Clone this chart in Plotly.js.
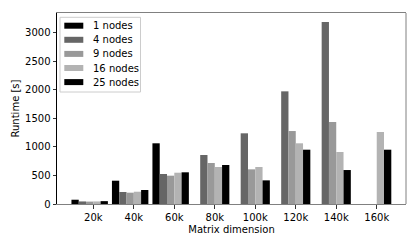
<!DOCTYPE html>
<html>
<head>
<meta charset="utf-8">
<script src="https://cdn.plot.ly/plotly-3.0.1.min.js"></script>
<style>
html, body { margin: 0; padding: 0; background: #fff; }
#chart { width: 420px; height: 245px; }
</style>
</head>
<body>
<div id="chart"></div>
<script>
// Data
const categories = ["20k", "40k", "60k", "80k", "100k", "120k", "140k", "160k"];
const seriesNames = ["1 nodes", "4 nodes", "9 nodes", "16 nodes", "25 nodes"];
const nodes1  = [75, 408, 1063, null, null, null, null, null];
const nodes4  = [45, 210, 525, 858, 1238, 1973, 3187, null];
const nodes9  = [42, 198, 496, 718, 607, 1278, 1436, null];
const nodes16 = [45, 215, 548, 648, 648, 1063, 911, 1261];
const nodes25 = [50, 245, 555, 683, 414, 951, 595, 951];
const yTicks = [0, 500, 1000, 1500, 2000, 2500, 3000];

const allSeries = [nodes1, nodes4, nodes9, nodes16, nodes25];
const colors = ["#000000", "#666666", "#999999", "#b3b3b3", "#000000"];
const barW = 0.18;
const xIdx = categories.map((c, i) => i);

const traces = allSeries.map((vals, s) => ({
  type: "bar",
  name: seriesNames[s],
  x: xIdx,
  y: vals,
  width: barW,
  offset: -0.54 + s * barW,
  marker: { color: colors[s], line: { width: 0 } },
  hoverinfo: "skip",
  showlegend: false
}));

const font = { family: "DejaVu Sans, sans-serif", size: 10, color: "#000" };

// Plot area in pixels (for placing the legend box in paper coordinates)
const M = { l: 57, r: 14, t: 13, b: 41 };
const W = 420, H = 245;
const plotW = W - M.l - M.r, plotH = H - M.t - M.b;
const px2x = px => (px - M.l) / plotW;
const py2y = py => (H - M.b - py) / plotH;

// Legend (matplotlib style: compact, light frame)
const shapes = [
  { type: "line", xref: "paper", yref: "paper", x0: 1, x1: 1, y0: 0, y1: 1,
    line: { color: "#808080", width: 1 } },
  { type: "rect", xref: "paper", yref: "paper",
    x0: px2x(60), x1: px2x(140.5), y0: py2y(92), y1: py2y(17.3),
    fillcolor: "rgba(255,255,255,0.8)", line: { color: "#cccccc", width: 1 } }
];
const annotations = [];
seriesNames.forEach((name, s) => {
  const cy = 25.7 + s * 14.1;
  shapes.push({ type: "rect", xref: "paper", yref: "paper",
    x0: px2x(64.3), x1: px2x(83.3), y0: py2y(cy + 3), y1: py2y(cy - 3),
    fillcolor: colors[s], line: { width: 0 } });
  annotations.push({ xref: "paper", yref: "paper", x: px2x(90.5), y: py2y(cy),
    xanchor: "left", yanchor: "middle", showarrow: false, text: name,
    font: font });
});

const layout = {
  width: W,
  height: H,
  margin: M,
  paper_bgcolor: "#fff",
  plot_bgcolor: "#fff",
  font: font,
  barmode: "overlay",
  showlegend: false,
  xaxis: {
    range: [-0.897, 7.723],
    tickmode: "array",
    tickvals: xIdx,
    ticktext: categories,
    ticks: "outside", ticklen: 3.5, tickwidth: 0.8, tickcolor: "#000",
    showgrid: false, zeroline: false,
    showline: true, linecolor: "#808080", linewidth: 1, mirror: true,
    tickfont: font,
    title: { text: "Matrix dimension", font: font, standoff: 4 },
    automargin: false
  },
  yaxis: {
    range: [0, 3345],
    tickmode: "array",
    tickvals: yTicks,
    ticktext: yTicks.map(String),
    ticks: "outside", ticklen: 3.5, tickwidth: 0.8, tickcolor: "#000",
    showgrid: false, zeroline: false,
    showline: true, linecolor: "#000", linewidth: 1, mirror: false,
    tickfont: font,
    title: { text: "Runtime [s]", font: font, standoff: 3 },
    automargin: false
  },
  shapes: shapes,
  annotations: annotations
};

Plotly.newPlot("chart", traces, layout, { staticPlot: true, displayModeBar: false });
</script>
</body>
</html>
